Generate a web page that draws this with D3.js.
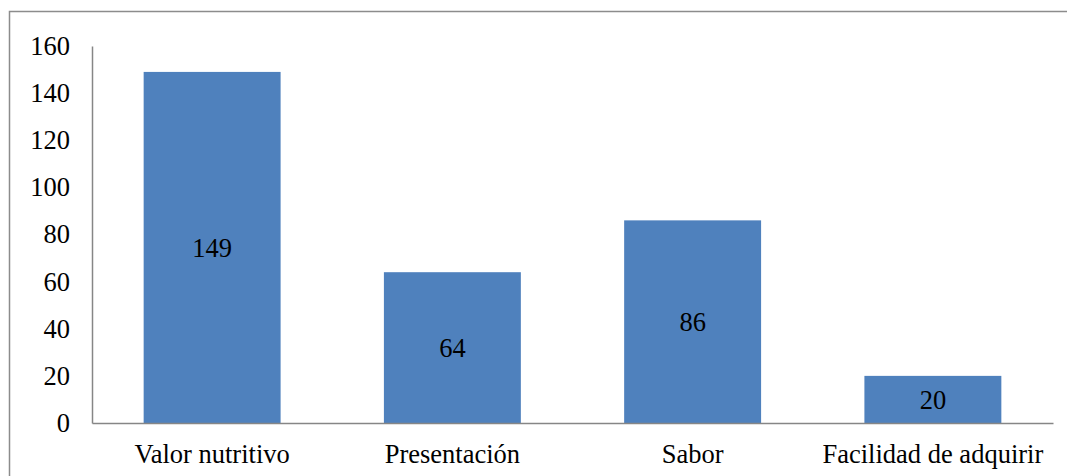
<!DOCTYPE html>
<html>
<head>
<meta charset="utf-8">
<script src="https://cdn.jsdelivr.net/npm/d3@7"></script>
<style>
  html, body { margin: 0; padding: 0; background: #fff; }
  svg { display: block; }
</style>
</head>
<body>
<svg id="chart" width="1067" height="476" font-family="Liberation Serif" font-size="26.5"></svg>
<script>
// Chart data
const categories = ["Valor nutritivo", "Presentación", "Sabor", "Facilidad de adquirir"];
const values = [149, 64, 86, 20];
const yTicks = [0, 20, 40, 60, 80, 100, 120, 140, 160];

const svg = d3.select("#chart");

// Outer chart frame (extends past right and bottom edges)
svg.append("rect")
  .attr("x", 9.5).attr("y", 11.5)
  .attr("width", 1080).attr("height", 480)
  .attr("fill", "#fff")
  .attr("stroke", "#8c8c8c")
  .attr("stroke-width", 1.5);

const plot = { left: 92, right: 1053, top: 46, bottom: 423 };

const x = d3.scaleBand()
  .domain(categories)
  .range([plot.left, plot.right])
  .paddingInner(0.43)
  .paddingOuter(0.215);

const y = d3.scaleLinear()
  .domain([0, 160])
  .range([plot.bottom, plot.top]);

// Bars
svg.append("g")
  .selectAll("rect")
  .data(values)
  .join("rect")
  .attr("x", (d, i) => x(categories[i]))
  .attr("y", d => y(d))
  .attr("width", x.bandwidth())
  .attr("height", d => y(0) - y(d))
  .attr("fill", "#4f81bd");

// Value labels centred inside each bar
svg.append("g")
  .selectAll("text")
  .data(values)
  .join("text")
  .attr("x", (d, i) => x(categories[i]) + x.bandwidth() / 2)
  .attr("y", d => (y(d) + y(0)) / 2 + 9.5)
  .attr("text-anchor", "middle")
  .attr("fill", "#000")
  .text(d => d);

// Y axis
const yAxis = svg.append("g")
  .attr("transform", `translate(${plot.left},0)`)
  .call(d3.axisLeft(y).tickValues(yTicks).tickSize(0).tickPadding(22))
  .attr("font-family", "Liberation Serif")
  .attr("font-size", 26.5);
yAxis.select(".domain").attr("stroke", "#868686").attr("stroke-width", 1.5);
yAxis.selectAll("text").attr("fill", "#000");

// X axis
const xAxis = svg.append("g")
  .attr("transform", `translate(0,${plot.bottom})`)
  .call(d3.axisBottom(x).tickSize(0).tickPadding(21))
  .attr("font-family", "Liberation Serif")
  .attr("font-size", 26.5);
xAxis.select(".domain").attr("stroke", "#868686").attr("stroke-width", 1.5);
xAxis.selectAll("text").attr("fill", "#000");
</script>
</body>
</html>
